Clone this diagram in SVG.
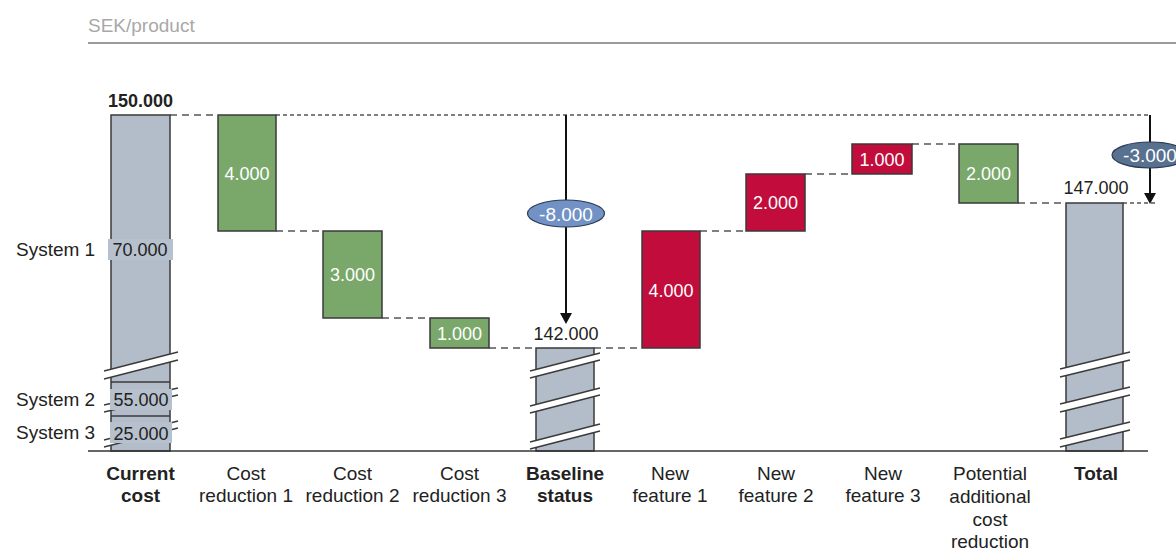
<svg xmlns="http://www.w3.org/2000/svg" width="1176" height="550" viewBox="0 0 1176 550">
<style>
text{font-family:"Liberation Sans",Arial,sans-serif;font-size:18px;fill:#222}
.t{font-size:19px}
.hdr{fill:#a8a8a8;font-size:19px}
.w{fill:#fff}
.b{font-weight:bold}
.m{text-anchor:middle}
.gray{fill:#b3bcc9;stroke:#3a3a3a;stroke-width:1.5}
.grn{fill:#79a86a;stroke:#3a3a3a;stroke-width:1.5}
.red{fill:#c20c3b;stroke:#3a3a3a;stroke-width:1.5}
.lbl{fill:#b7c1cd}
.brk{fill:#fff;stroke:none}
.bl{stroke:#3a3a3a;stroke-width:1.3;fill:none}
.dl{stroke:#555;stroke-width:1.5;stroke-dasharray:7 5;fill:none}
.df{stroke:#555;stroke-width:1.3;stroke-dasharray:4 3;fill:none}
.ar{stroke:#111;stroke-width:2;fill:none}
</style>

<text class="hdr" x="88" y="32">SEK/product</text>
<line x1="88" y1="43" x2="1176" y2="43" stroke="#9a9a9a" stroke-width="2"/>

<g id="connectors">
<line class="dl" x1="170" y1="115" x2="218" y2="115"/>
<line class="df" x1="276" y1="115" x2="1150" y2="115"/>
<line class="dl" x1="276" y1="231" x2="323" y2="231"/>
<line class="dl" x1="382" y1="318" x2="430" y2="318"/>
<line class="dl" x1="489" y1="348" x2="535" y2="348"/>
<line class="dl" x1="594" y1="348" x2="642" y2="348"/>
<line class="dl" x1="700" y1="231" x2="746" y2="231"/>
<line class="dl" x1="805" y1="174" x2="852" y2="174"/>
<line class="dl" x1="912" y1="144" x2="959" y2="144"/>
<line class="dl" x1="1018" y1="203" x2="1066" y2="203"/>
<line class="df" x1="1123" y1="203" x2="1156" y2="203"/>
<line class="ar" x1="566" y1="115" x2="566" y2="314"/>
<polygon points="560,313 572,313 566,324" fill="#111"/>
<line class="ar" x1="1150" y1="115" x2="1150" y2="194"/>
<polygon points="1144,193 1156,193 1150,204" fill="#111"/>
</g>

<g id="current-cost">
<rect class="gray" x="111" y="115" width="59" height="336"/>
<line class="bl" x1="111" y1="382" x2="170" y2="382"/>
<line class="bl" x1="111" y1="416" x2="170" y2="416"/>
<polygon class="brk" points="104,371 178,352 178,360 104,379"/>
<line class="bl" x1="104" y1="371" x2="178" y2="352"/>
<line class="bl" x1="104" y1="379" x2="178" y2="360"/>
<polygon class="brk" points="104,405 178,388 178,395 104,412"/>
<line class="bl" x1="104" y1="405" x2="178" y2="388"/>
<line class="bl" x1="104" y1="412" x2="178" y2="395"/>
<polygon class="brk" points="104,440 178,421 178,428 104,447"/>
<line class="bl" x1="104" y1="440" x2="178" y2="421"/>
<line class="bl" x1="104" y1="447" x2="178" y2="428"/>
<rect class="lbl" x="108" y="239" width="65" height="21"/>
<rect class="lbl" x="110" y="389" width="62" height="21"/>
<rect class="lbl" x="110" y="422" width="62" height="21"/>
<text class="m" x="140" y="256">70.000</text>
<text class="m" x="141" y="406">55.000</text>
<text class="m" x="141" y="440">25.000</text>
<text class="t" x="16" y="256">System 1</text>
<text class="t" x="16" y="406">System 2</text>
<text class="t" x="16" y="439">System 3</text>
<text class="m b" x="140.5" y="107">150.000</text>
<text class="m b t" x="140.5" y="480">Current</text>
<text class="m b t" x="140.5" y="502">cost</text>
</g>

<g id="cost-reduction-1">
<rect class="grn" x="218" y="115" width="58" height="116"/>
<text class="m w" x="247" y="180">4.000</text>
<text class="m t" x="246" y="480">Cost</text>
<text class="m t" x="246" y="502">reduction 1</text>
</g>

<g id="cost-reduction-2">
<rect class="grn" x="323" y="231" width="59" height="87"/>
<text class="m w" x="352.5" y="281">3.000</text>
<text class="m t" x="352.5" y="480">Cost</text>
<text class="m t" x="352.5" y="502">reduction 2</text>
</g>

<g id="cost-reduction-3">
<rect class="grn" x="430" y="318" width="59" height="30"/>
<text class="m w" x="459.5" y="340">1.000</text>
<text class="m t" x="459.5" y="480">Cost</text>
<text class="m t" x="459.5" y="502">reduction 3</text>
</g>

<g id="baseline-status">
<rect class="gray" x="536" y="348" width="58" height="103"/>
<polygon class="brk" points="530,371 600,353 600,360 530,378"/>
<line class="bl" x1="530" y1="371" x2="600" y2="353"/>
<line class="bl" x1="530" y1="378" x2="600" y2="360"/>
<polygon class="brk" points="530,406 600,388 600,395 530,413"/>
<line class="bl" x1="530" y1="406" x2="600" y2="388"/>
<line class="bl" x1="530" y1="413" x2="600" y2="395"/>
<polygon class="brk" points="530,442 600,424 600,431 530,449"/>
<line class="bl" x1="530" y1="442" x2="600" y2="424"/>
<line class="bl" x1="530" y1="449" x2="600" y2="431"/>
<text class="m" x="566" y="340">142.000</text>
<ellipse cx="566" cy="213.5" rx="38.5" ry="13.5" fill="#7292c6" stroke="#2a3a55" stroke-width="1.2"/>
<text class="m w t" x="566" y="220.5">-8.000</text>
<text class="m b t" x="565" y="480">Baseline</text>
<text class="m b t" x="565" y="502">status</text>
</g>

<g id="new-feature-1">
<rect class="red" x="642" y="231" width="58" height="117"/>
<text class="m w" x="671" y="297">4.000</text>
<text class="m t" x="670" y="480">New</text>
<text class="m t" x="670" y="502">feature 1</text>
</g>

<g id="new-feature-2">
<rect class="red" x="746" y="174" width="59" height="57"/>
<text class="m w" x="775.5" y="209">2.000</text>
<text class="m t" x="776" y="480">New</text>
<text class="m t" x="776" y="502">feature 2</text>
</g>

<g id="new-feature-3">
<rect class="red" x="852" y="144" width="60" height="30"/>
<text class="m w" x="882" y="166">1.000</text>
<text class="m t" x="883" y="480">New</text>
<text class="m t" x="883" y="502">feature 3</text>
</g>

<g id="potential-reduction">
<rect class="grn" x="959" y="144" width="59" height="59"/>
<text class="m w" x="988.5" y="180">2.000</text>
<text class="m t" x="990" y="480">Potential</text>
<text class="m t" x="990" y="503">additional</text>
<text class="m t" x="990" y="526">cost</text>
<text class="m t" x="990" y="548">reduction</text>
</g>

<g id="total">
<rect class="gray" x="1066" y="203" width="57" height="248"/>
<polygon class="brk" points="1060,369 1130,352 1130,360 1060,377"/>
<line class="bl" x1="1060" y1="369" x2="1130" y2="352"/>
<line class="bl" x1="1060" y1="377" x2="1130" y2="360"/>
<polygon class="brk" points="1060,404 1130,387 1130,395 1060,412"/>
<line class="bl" x1="1060" y1="404" x2="1130" y2="387"/>
<line class="bl" x1="1060" y1="412" x2="1130" y2="395"/>
<polygon class="brk" points="1060,439 1130,422 1130,430 1060,447"/>
<line class="bl" x1="1060" y1="439" x2="1130" y2="422"/>
<line class="bl" x1="1060" y1="447" x2="1130" y2="430"/>
<text class="m" x="1096" y="194">147.000</text>
<ellipse cx="1150" cy="155" rx="38" ry="13" fill="#58718f" stroke="#2a3a55" stroke-width="1.2"/>
<text class="m w t" x="1150" y="161.5">-3.000</text>
<text class="m b t" x="1096" y="480">Total</text>
</g>

<line x1="88" y1="451" x2="1148" y2="451" stroke="#333" stroke-width="1.5"/>
</svg>
